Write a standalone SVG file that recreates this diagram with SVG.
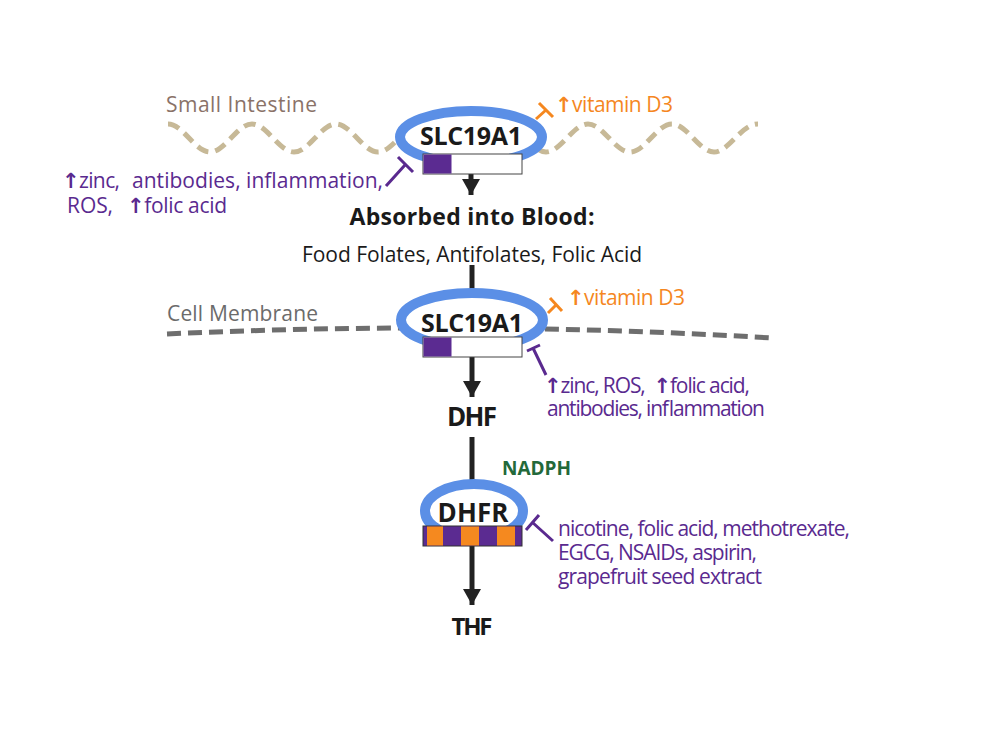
<svg xmlns="http://www.w3.org/2000/svg" width="1000" height="741" viewBox="0 0 1000 741">
<defs>
<style>
text{font-family:"Open Sans","Noto Sans","DejaVu Sans",sans-serif}
.lbl{font-size:21px}
.b{font-weight:bold;fill:#1a1a1a}
.pur{fill:#5a2a8f}
.org{fill:#f5871f}
.up{font-weight:bold}
.blue{fill:#fff;stroke:#5b8fe6;stroke-width:10}
.bar{stroke:#444;stroke-width:1}
.stem{stroke:#222;stroke-width:5;fill:none}
.inhP{stroke:#5a2a8f;stroke-width:3;fill:none}
.inhO{stroke:#f5871f;stroke-width:3;fill:none}
</style>
<marker id="ah" markerUnits="userSpaceOnUse" markerWidth="20" markerHeight="18" refX="16" refY="9" orient="auto">
<path d="M0,0 L16,9 L0,18 Z" fill="#222"/>
</marker>
</defs>
<rect width="1000" height="741" fill="#fff"/>

<g id="membranes">
<path d="M168,124 C183,124 195,152 210,152 C225,152 237,124 252,124 C267,124 279,152 294,152 C309,152 321,124 336,124 C351,124 363,152 378,152 C393,152 405,124 420,124 C435,124 447,152 462,152 C477,152 489,124 504,124 C519,124 531,152 546,152 C561,152 573,124 588,124 C603,124 615,152 630,152 C645,152 657,124 672,124 C687,124 699,152 714,152 C729,152 741,124 758,124" fill="none" stroke="#c7b997" stroke-width="5" stroke-dasharray="12 7"/>
<path d="M167,334 Q470,320 772,338" fill="none" stroke="#6e6e6e" stroke-width="5" stroke-dasharray="14 7"/>
<text class="lbl" x="166" y="112" fill="#8a7268" textLength="151">Small Intestine</text>
<text class="lbl" x="167" y="321" fill="#6b6b6b" textLength="151">Cell Membrane</text>
</g>

<g id="connectors">
<line class="stem" x1="471" y1="174" x2="471" y2="195" marker-end="url(#ah)"/>
<line class="stem" x1="472" y1="265" x2="472" y2="292"/>
<line class="stem" x1="472" y1="357" x2="472" y2="397" marker-end="url(#ah)"/>
<line class="stem" x1="472" y1="437" x2="472" y2="482"/>
<line class="stem" x1="472" y1="546" x2="472" y2="605" marker-end="url(#ah)"/>
<path class="inhO" d="M536,119 L546,110 M539,103 L553,117"/>
<path class="inhO" d="M548,313 L556,305 M550,298 L562,311"/>
<path class="inhP" d="M386,186 L405,165 M398,157 L413,172"/>
<path class="inhP" d="M546,375 L533,348 M527,351 L540,345"/>
<path class="inhP" d="M553,541 L532,522 M526,530 L539,515"/>
</g>

<g id="slc19a1-top">
<ellipse class="blue" cx="471" cy="137" rx="71" ry="26"/>
<rect class="bar" x="423" y="154" width="99" height="20" fill="#fff"/>
<rect x="423.5" y="154.5" width="28" height="19" fill="#5b2b91"/>
<text class="b" x="471" y="145" font-size="25" text-anchor="middle" textLength="102">SLC19A1</text>
</g>

<g id="slc19a1-mid">
<ellipse class="blue" cx="472" cy="320" rx="71" ry="27"/>
<rect class="bar" x="423" y="337" width="99" height="20" fill="#fff"/>
<rect x="423.5" y="337.5" width="28" height="19" fill="#5b2b91"/>
<text class="b" x="472" y="332" font-size="25" text-anchor="middle" textLength="102">SLC19A1</text>
</g>

<g id="dhfr">
<ellipse class="blue" cx="474" cy="511" rx="49" ry="27" stroke-width="9"/>
<rect x="423" y="526" width="99" height="20" fill="#5b2b91" stroke="#333" stroke-width="1"/>
<rect x="427" y="526.5" width="16" height="19" fill="#f5891f"/>
<rect x="461" y="526.5" width="18" height="19" fill="#f5891f"/>
<rect x="497" y="526.5" width="18" height="19" fill="#f5891f"/>
<text class="b" x="473" y="522" font-size="26" text-anchor="middle" textLength="71">DHFR</text>
</g>

<g id="blood">
<text class="b" x="472" y="225" font-size="23" text-anchor="middle" textLength="245">Absorbed into Blood:</text>
<text class="lbl" x="472" y="262" fill="#1a1a1a" text-anchor="middle" textLength="340">Food Folates, Antifolates, Folic Acid</text>
</g>

<g id="dhf"><text class="b" x="472" y="426" font-size="26" text-anchor="middle" textLength="50">DHF</text></g>
<g id="thf"><text class="b" x="472" y="635" font-size="24" text-anchor="middle" textLength="41">THF</text></g>
<g id="nadph"><text x="502" y="475" font-size="19" font-weight="bold" fill="#23693a">NADPH</text></g>

<g id="vitd-top"><text class="lbl org" x="555" y="112" textLength="118"><tspan class="up">↑</tspan>vitamin D3</text></g>
<g id="vitd-mid"><text class="lbl org" x="567" y="305" textLength="118"><tspan class="up">↑</tspan>vitamin D3</text></g>

<g id="inhib-top">
<text class="lbl pur" x="62" y="188" textLength="58"><tspan class="up">↑</tspan>zinc,</text>
<text class="lbl pur" x="132" y="188" textLength="251">antibodies, inflammation,</text>
<text class="lbl pur" x="67" y="213" textLength="46">ROS,</text>
<text class="lbl pur" x="127" y="213" textLength="100"><tspan class="up">↑</tspan>folic acid</text>
</g>

<g id="inhib-mid">
<text class="lbl pur" x="544" y="393" textLength="206" xml:space="preserve"><tspan class="up">↑</tspan>zinc, ROS,  <tspan class="up">↑</tspan>folic acid,</text>
<text class="lbl pur" x="547" y="416" textLength="218">antibodies, inflammation</text>
</g>

<g id="inhib-dhfr">
<text class="lbl pur" x="558" y="536" textLength="292">nicotine, folic acid, methotrexate,</text>
<text class="lbl pur" x="558" y="560" textLength="199">EGCG, NSAIDs, aspirin,</text>
<text class="lbl pur" x="558" y="584" textLength="204">grapefruit seed extract</text>
</g>
</svg>
